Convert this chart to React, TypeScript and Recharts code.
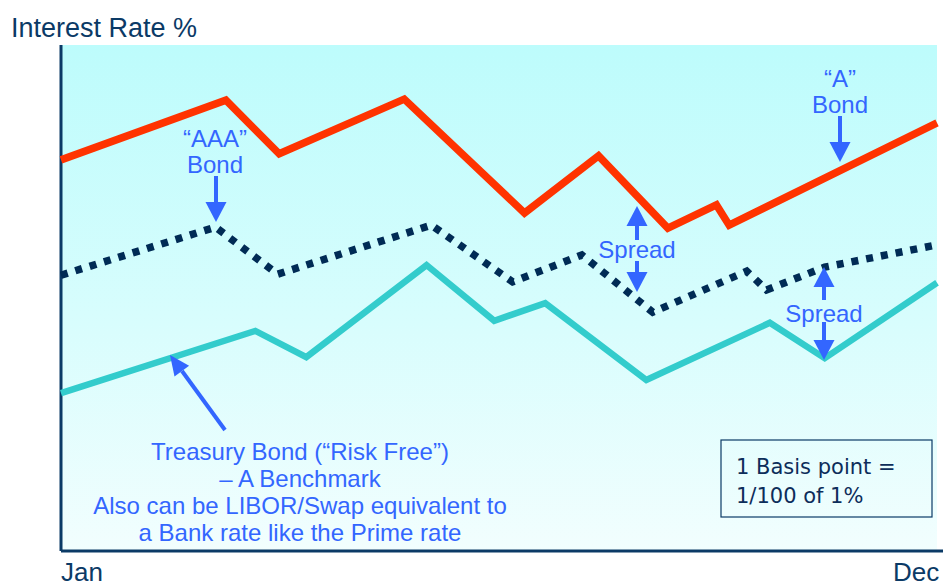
import { LineChart, Line, XAxis, YAxis, ReferenceLine } from 'recharts';

// months are fractional: 0 = Jan, 11 = Dec
const aBondMonths = [0, 2.07, 2.74, 4.31, 5.82, 6.75, 7.62, 8.23, 8.39, 11];
const aBondRates = [7.73, 8.91, 7.85, 8.93, 6.68, 7.81, 6.38, 6.84, 6.44, 8.46];

const aaaBondMonths = [0, 1.94, 2.72, 4.65, 5.67, 6.54, 7.43, 8.61, 8.86, 9.59, 11];
const aaaBondRates = [5.45, 6.4, 5.47, 6.44, 5.32, 5.85, 4.72, 5.53, 5.16, 5.61, 6.05];

const treasuryMonths = [0, 2.44, 3.08, 4.59, 5.44, 6.08, 7.35, 8.9, 9.59, 11];
const treasuryRates = [3.12, 4.35, 3.83, 5.65, 4.55, 4.9, 3.38, 4.51, 3.81, 5.3];

const monthTicks = [0, 11];
const monthLabels = ['Jan', 'Dec'];

const toRows = (months: number[], rates: number[]) => months.map((m, i) => ({ m, rate: rates[i] }));

const aBond = toRows(aBondMonths, aBondRates);
const aaaBond = toRows(aaaBondMonths, aaaBondRates);
const treasury = toRows(treasuryMonths, treasuryRates);

const NAVY = '#0b3a66';
const BLUE = '#3366ff';
const FONT = '"Liberation Sans", Arial, sans-serif';

const MonthTick = ({ x, y, payload }: any) => {
  const i = monthTicks.indexOf(payload.value);
  const first = i === 0;
  return (
    <text
      x={first ? x : x + 4}
      y={y}
      dy={30}
      textAnchor={first ? 'start' : 'end'}
      fill={NAVY}
      fontSize={26}
      fontFamily={FONT}
    >
      {monthLabels[i]}
    </text>
  );
};

const VArrow = ({ x, from, to }: { x: number; from: number; to: number }) => {
  const dir = to > from ? 1 : -1;
  const base = to - dir * 20;
  return (
    <g>
      <line x1={x} y1={from} x2={x} y2={base + dir} stroke={BLUE} strokeWidth={4} />
      <polygon points={`${x - 10.5},${base} ${x + 10.5},${base} ${x},${to}`} fill={BLUE} />
    </g>
  );
};

export default function App() {
  return (
    <div style={{ position: 'absolute', left: 0, top: 0, width: 943, height: 587, background: '#fff' }}>
      {/* plot background fade, behind the transparent chart svg */}
      <div
        style={{
          position: 'absolute', left: 61, top: 45, width: 876, height: 506,
          background: 'linear-gradient(to bottom, #bdfcfc 0%, #d8fdfd 55%, #f2fefe 100%)',
        }}
      />
      <LineChart width={943} height={587} margin={{ top: 45, right: 0, left: 61, bottom: 0 }} style={{ position: 'absolute', left: 0, top: 0 }}>
        <XAxis
          dataKey="m"
          type="number"
          domain={[0, 11.075]}
          ticks={monthTicks}
          height={36}
          tickLine={false}
          tickSize={0}
          tickMargin={0}
          axisLine={{ stroke: NAVY, strokeWidth: 3 }}
          tick={<MonthTick />}
          allowDuplicatedCategory={false}
        />
        <YAxis type="number" domain={[0, 10]} hide />
        <ReferenceLine x={0} stroke={NAVY} strokeWidth={3} />
        <Line data={treasury} dataKey="rate" type="linear" stroke="#33cccc" strokeWidth={6.5} dot={false} isAnimationActive={false} />
        <Line data={aaaBond} dataKey="rate" type="linear" stroke="#002b55" strokeWidth={7.5} strokeDasharray="7 8" dot={false} isAnimationActive={false} />
        <Line data={aBond} dataKey="rate" type="linear" stroke="#ff3300" strokeWidth={7.5} dot={false} isAnimationActive={false} />
      </LineChart>

      <svg width={943} height={587} style={{ position: 'absolute', left: 0, top: 0, pointerEvents: 'none' }}>
        <text x={11} y={37} fill={NAVY} fontSize={27} fontFamily={FONT}>Interest Rate %</text>

        <g fill={BLUE} fontSize={24} fontFamily={FONT} textAnchor="middle">
          <text x={215} y={147}>“AAA”</text>
          <text x={215} y={173}>Bond</text>
          <text x={840} y={87}>“A”</text>
          <text x={840} y={113}>Bond</text>
          <text x={637} y={258}>Spread</text>
          <text x={824} y={322}>Spread</text>
          <text x={300} y={460}>Treasury Bond (“Risk Free”)</text>
          <text x={300} y={487}>– A Benchmark</text>
          <text x={300} y={514}>Also can be LIBOR/Swap equivalent to</text>
          <text x={300} y={541}>a Bank rate like the Prime rate</text>
        </g>

        <VArrow x={216} from={176} to={222} />
        <VArrow x={840} from={116} to={162} />
        <VArrow x={637} from={240} to={206} />
        <VArrow x={637} from={261} to={292} />
        <VArrow x={824} from={300} to={267} />
        <VArrow x={824} from={322} to={360} />

        <line x1={225} y1={430} x2={182} y2={371} stroke={BLUE} strokeWidth={4} />
        <polygon points="189.1,365.8 174.5,376.4 170,355" fill={BLUE} />

        <rect x={721} y={440} width={211} height={77} fill="none" stroke={NAVY} strokeWidth={1.2} />
        <g fill="#0d2d5a" fontSize={21} fontFamily='"DejaVu Sans", Verdana, sans-serif'>
          <text x={736} y={474}>1 Basis point =</text>
          <text x={736} y={503}>1/100 of 1%</text>
        </g>
      </svg>
    </div>
  );
}
